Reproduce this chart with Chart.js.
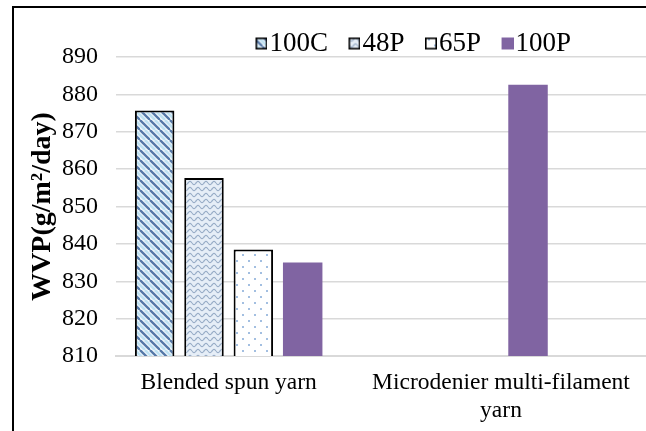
<!DOCTYPE html>
<html>
<head>
<meta charset="utf-8">
<script src="https://cdn.jsdelivr.net/npm/chart.js@4"></script>
<style>
  html, body { margin: 0; padding: 0; background: #fff; overflow: hidden; }
  #wrap { position: relative; width: 832px; height: 431px; }
  #frame {
    position: absolute; left: 12px; top: 6px; width: 900px; height: 500px;
    border-left: 2px solid #000; border-top: 2px solid #000; pointer-events: none;
  }
</style>
</head>
<body>
<div id="wrap">
  <canvas id="barChart" width="832" height="431"></canvas>
  <div id="frame"></div>
</div>
<script>
const SERIF = "'Liberation Serif', 'Times New Roman', serif";
Chart.defaults.font.family = SERIF;
Chart.defaults.color = "#000";

const categories = ["Blended spun yarn", ["Microdenier multi-filament", "yarn"], ""];
const series = ["100C", "48P", "65P", "100P"];
const wvp100C = [875.7, null];
const wvp48P = [857.6, null];
const wvp65P = [838.5, null];
const wvp100P = [835.0, 882.6];
const yTicks = [810, 890, 10]; // min, max, step

// small repeating tiles for the hatched fills
function makeTile(w, h, draw) {
  const c = document.createElement("canvas");
  c.width = w;
  c.height = h;
  draw(c.getContext("2d"), w, h);
  return c;
}

const stripeTile = makeTile(10, 10, (g, w, h) => {
  g.fillStyle = "#f2f8fc";
  g.fillRect(0, 0, w, h);
  for (let k = -1; k <= 1; k++) {
    g.strokeStyle = "#bfe2f3";
    g.lineWidth = 2.6;
    g.beginPath();
    g.moveTo(k * w + 5, 0);
    g.lineTo(k * w + 5 + w, h);
    g.stroke();
    g.strokeStyle = "#5478a8";
    g.lineWidth = 2.3;
    g.beginPath();
    g.moveTo(k * w, 0);
    g.lineTo(k * w + w, h);
    g.stroke();
  }
});

const waveTile = makeTile(8, 6, (g, w, h) => {
  g.fillStyle = "#e6eef7";
  g.fillRect(0, 0, w, h);
  g.strokeStyle = "#98adc7";
  g.lineWidth = 1.2;
  g.beginPath();
  for (let x = 0; x <= w; x += 0.5) {
    const y = 3 + 1.6 * Math.sin((x / w) * Math.PI * 2);
    if (x === 0) g.moveTo(x, y); else g.lineTo(x, y);
  }
  g.stroke();
});

const dotTile = makeTile(12, 12, (g, w, h) => {
  g.fillStyle = "#ffffff";
  g.fillRect(0, 0, w, h);
  g.fillStyle = "#a3bfe1";
  g.fillRect(2, 2, 2, 2);
  g.fillRect(8, 8, 2, 2);
});

const ctx = document.getElementById("barChart").getContext("2d");
const fills = [
  ctx.createPattern(stripeTile, "repeat"),
  ctx.createPattern(waveTile, "repeat"),
  ctx.createPattern(dotTile, "repeat"),
  "#8064a2"
];
const outlined = [true, true, true, false];

// legend swatch: square sits at the right end so it hugs its label
function swatch(i) {
  const c = document.createElement("canvas");
  c.width = 35;
  c.height = 14;
  const g = c.getContext("2d");
  const tile = [stripeTile, waveTile, dotTile][i];
  g.fillStyle = tile ? g.createPattern(tile, "repeat") : fills[i];
  g.fillRect(23, 1, 12, 12);
  if (outlined[i]) {
    g.strokeStyle = "#000";
    g.lineWidth = 1.6;
    g.strokeRect(23.8, 1.8, 10.4, 10.4);
  }
  return c;
}

const shiftLabel = {
  id: "shiftLabel",
  beforeDraw(chart) {
    const items = chart.scales.x.getLabelItems();
    const it = items[1];
    if (it && !it.shifted) {
      if (it.options && it.options.translation) it.options.translation[0] += 47;
      else it.x += 47;
      it.shifted = true;
    }
  }
};

const datasets = series.map((name, i) => ({
  label: name,
  data: [wvp100C, wvp48P, wvp65P, wvp100P][i],
  backgroundColor: fills[i],
  borderColor: "#000",
  borderWidth: outlined[i] ? 2 : 0,
  pointStyle: swatch(i)
}));

new Chart(ctx, {
  type: "bar",
  data: { labels: categories, datasets: datasets },
  options: {
    responsive: false,
    devicePixelRatio: 1,
    animation: false,
    categoryPercentage: 0.876,
    barPercentage: 0.8,
    layout: { padding: { top: 21, left: 23, right: 40, bottom: 0 } },
    scales: {
      x: {
        afterFit: (scale) => { scale.height = 75; },
        grid: { display: false, drawTicks: false },
        border: { display: true, color: "#d9d9d9", width: 2 },
        ticks: {
          font: { family: SERIF, size: 23.5 },
          padding: 13,
          maxRotation: 0,
          minRotation: 0,
          autoSkip: false
        }
      },
      y: {
        afterFit: (scale) => { scale.width = 93; },
        min: yTicks[0],
        max: yTicks[1],
        ticks: { stepSize: yTicks[2], font: { family: SERIF, size: 24 }, padding: 18 },
        grid: { color: "#d9d9d9", lineWidth: 1.5, drawTicks: false },
        border: { display: false },
        title: {
          display: true,
          text: "WVP(g/m²/day)",
          font: { family: SERIF, size: 28, weight: "bold" },
          padding: { top: 3, bottom: 3 }
        }
      }
    },
    plugins: {
      legend: {
        position: "top",
        maxHeight: 36,
        labels: {
          font: { family: SERIF, size: 27 },
          usePointStyle: true,
          boxWidth: 12,
          boxHeight: 12,
          padding: 9
        }
      },
      tooltip: { enabled: false }
    }
  },
  plugins: [shiftLabel]
});
</script>
</body>
</html>
